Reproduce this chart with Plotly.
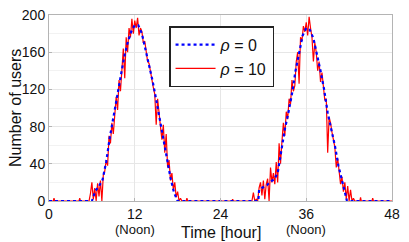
import plotly.graph_objects as go

# ---------------- data ----------------
x_ticks = [0, 12, 24, 36, 48]
x_ticklabels = ["0", "12", "24", "36", "48"]
noon_hours = [12, 36]
y_ticks = [0, 40, 80, 120, 160, 200]

# rho = 0 (smooth profile)
blue_t = [0, 6.0, 6.5, 7.0, 7.5, 8.0, 8.5, 9.0, 9.5, 10.0, 10.5, 11.0, 11.5, 12.0,
          12.5, 13.0, 13.5, 14.0, 14.5, 15.0, 15.5, 16.0, 16.5, 17.0, 17.5, 18.0,
          29.3, 29.4, 30.0, 30.5, 31.0, 31.5, 32.0, 32.5, 33.0, 33.5, 34.0, 34.5,
          35.0, 35.5, 36.0, 36.5, 37.0, 37.5, 38.0, 38.5, 39.0, 39.5, 40.0, 40.5,
          41.0, 41.5, 41.7, 48]
blue_v = [0, 0, 11, 16, 23, 42, 68, 90, 108, 134, 154, 170, 182, 189,
          189, 180, 164, 147, 129, 109, 88, 66, 42, 25, 9, 0,
          0, 12, 15, 17, 21, 23, 30, 54, 77, 95, 115, 140,
          161, 178, 186, 184, 175, 159, 140, 120, 95, 77, 60, 38,
          22, 5, 0, 0]

# rho = 10 (noisy profile), day 1 from 5.6 h, day 2 from 28.4 h, 0.2 h steps
red_day1_start = 5.6
red_day1 = [0, 8, 20, 2, 14, 0, 19, 5, 22, 0,
            28, 32, 44, 38, 70, 62, 84, 72, 96, 112,
            98, 130, 118, 146, 164, 132, 176, 160, 186, 176,
            196, 180, 194, 186, 197, 178, 186, 182, 170, 172,
            158, 150, 148, 138, 130, 122, 115, 82, 110, 90,
            80, 66, 82, 52, 72, 36, 44, 22, 30, 12,
            20, 4, 10, 0, 3, 0]
red_day2_start = 28.4
red_day2 = [0, 9, 0, 2, 0, 14, 20, 6, 22, 2,
            18, 24, 0, 36, 20, 30, 18, 42, 20, 62,
            40, 64, 84, 70, 96, 88, 110, 104, 130, 118,
            124, 150, 160, 126, 176, 172, 188, 182, 192, 178,
            198, 186, 176, 150, 170, 160, 140, 150, 128, 138,
            120, 108, 110, 52, 90, 84, 74, 66, 58, 36,
            46, 32, 18, 26, 10, 20, 2, 16, 0, 12,
            0, 3, 0]
red_blip_t = [0.7, 4.3, 19.3, 25.7, 43.6, 45.3]
red_blip_v = [3, 3, 3, 2, 4, 3]

# ---------------- assemble red series ----------------
pts = [(0.0, 0.0), (48.0, 0.0)]
for t, v in zip(red_blip_t, red_blip_v):
    pts += [(t - 0.1, 0.0), (t, v), (t + 0.1, 0.0)]
for start, vals in ((red_day1_start, red_day1), (red_day2_start, red_day2)):
    pts += [(round(start + 0.2 * i, 2), v) for i, v in enumerate(vals)]
pts.sort(key=lambda p: p[0])
red_t = [p[0] for p in pts]
red_v = [p[1] for p in pts]

FONT = "Liberation Sans, Arial, sans-serif"

fig = go.Figure()
fig.add_trace(go.Scatter(x=red_t, y=red_v, mode="lines", name="<i>ρ</i> = 10",
                         line=dict(color="#ff0000", width=1.2), legendrank=2))
fig.add_trace(go.Scatter(x=blue_t, y=blue_v, mode="lines", name="<i>ρ</i> = 0",
                         line=dict(color="#0000ff", width=2.2, dash="dot"), legendrank=1))

fig.update_layout(
    width=409, height=242,
    margin=dict(l=49, r=17, t=7, b=41),
    paper_bgcolor="white", plot_bgcolor="white",
    font=dict(family=FONT, size=14, color="#111"),
    showlegend=True,
    legend=dict(x=0.35, y=0.94, xanchor="left", yanchor="top",
                bgcolor="white", bordercolor="#222", borderwidth=1.5,
                font=dict(size=16, family=FONT), tracegroupgap=0,
                itemwidth=40),
)
fig.update_xaxes(range=[0, 48], tickmode="array", tickvals=x_ticks, ticktext=x_ticklabels,
                 showgrid=True, gridcolor="#e6e6e6", gridwidth=1,
                 showline=True, linecolor="#b4b4b4", linewidth=1, mirror=True,
                 ticks="inside", ticklen=3, tickcolor="#b4b4b4",
                 zeroline=False, tickfont=dict(size=14), ticklabeloverflow="allow")
fig.update_yaxes(range=[0, 200], tickmode="array", tickvals=y_ticks,
                 showgrid=True, gridcolor="#e6e6e6", gridwidth=1,
                 minor=dict(dtick=20, tick0=0, showgrid=True, gridcolor="#f2f2f2"),
                 showline=True, linecolor="#b4b4b4", linewidth=1, mirror=True,
                 ticks="inside", ticklen=3, tickcolor="#b4b4b4",
                 zeroline=False, tickfont=dict(size=14), ticklabeloverflow="allow")

for h in noon_hours:
    fig.add_annotation(x=h, xref="x", y=0, yref="paper", text="(Noon)", showarrow=False,
                       yanchor="middle", yshift=-28, font=dict(size=13, family=FONT))
fig.add_annotation(x=0.5, xref="paper", y=0, yref="paper", text="Time [hour]", showarrow=False,
                   yanchor="middle", yshift=-31, font=dict(size=16, family=FONT))
fig.add_annotation(x=0, xref="paper", y=0.5, yref="paper", text="Number of users", showarrow=False,
                   textangle=-90, xanchor="center", xshift=-34, font=dict(size=16, family=FONT))

fig.write_html("out.html", config={"displayModeBar": False},
               post_script="document.body.style.margin='0';document.body.style.padding='0';"
                           "document.documentElement.style.overflow='hidden';")
